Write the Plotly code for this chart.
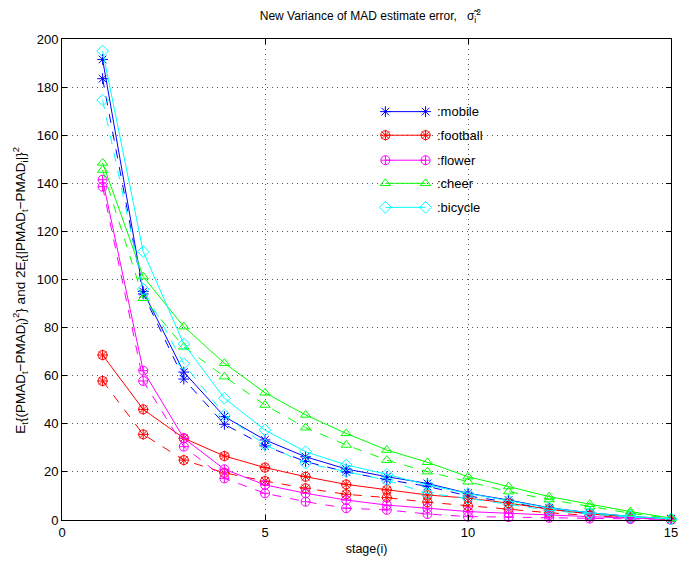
import plotly.graph_objects as go

stages = list(range(1, 16))

# E_t{(PMAD_t - PMAD_i)^2}  (solid)  and  2E_t{|PMAD_t - PMAD_i|}^2  (dashed)
mobile_sq = [191.5, 95.0, 61.5, 43.0, 33.3, 26.3, 21.2, 18.0, 15.2, 11.1, 8.3, 5.1, 3.0, 1.5, 0.5]
mobile_abs = [183.5, 94.0, 58.6, 39.8, 30.8, 24.3, 20.0, 16.8, 14.0, 10.0, 7.4, 4.5, 2.6, 1.3, 0.4]
football_sq = [68.6, 46.0, 34.0, 26.6, 21.8, 18.0, 14.8, 12.5, 10.4, 9.1, 7.0, 4.5, 2.5, 1.2, 0.3]
football_abs = [57.8, 35.6, 24.9, 19.6, 16.2, 13.2, 10.7, 9.3, 7.4, 5.8, 4.5, 3.0, 1.8, 0.8, 0.2]
flower_sq = [141.5, 62.1, 34.0, 21.1, 14.6, 11.1, 8.3, 6.2, 4.9, 3.5, 2.8, 2.0, 1.4, 0.8, 0.3]
flower_abs = [138.6, 57.8, 30.5, 17.3, 11.1, 7.6, 4.9, 4.2, 2.5, 1.4, 1.2, 0.9, 0.6, 0.4, 0.2]
cheer_sq = [148.5, 101.2, 80.4, 65.2, 52.9, 43.7, 36.0, 29.1, 24.0, 18.0, 13.9, 9.7, 6.6, 3.5, 0.8]
cheer_abs = [145.5, 92.2, 72.0, 59.6, 47.8, 38.4, 31.2, 24.9, 20.1, 15.9, 11.8, 8.5, 5.5, 2.8, 0.6]
bicycle_sq = [195.0, 111.6, 73.2, 50.6, 37.4, 28.4, 22.9, 19.0, 14.6, 11.0, 8.0, 5.0, 3.0, 1.5, 0.5]
bicycle_abs = [174.6, 96.0, 65.0, 43.7, 31.2, 23.6, 20.1, 16.5, 11.1, 9.0, 6.5, 4.0, 2.5, 1.2, 0.4]

names = ["mobile", "football", "flower", "cheer", "bicycle"]
colors = ["#0000FF", "#FF0000", "#FF00FF", "#00FF00", "#00FFFF"]
symbols = [["asterisk-open"], ["circle-open", "asterisk-open"], ["circle-cross-open"],
           ["triangle-up-open"], ["diamond-open"]]
solid = [mobile_sq, football_sq, flower_sq, cheer_sq, bicycle_sq]
dashed = [mobile_abs, football_abs, flower_abs, cheer_abs, bicycle_abs]

# legend sample placement, in plot-area fractions
legend_x = [0.531, 0.597]
legend_text_x = 0.612
legend_y = [0.849, 0.800, 0.748, 0.700, 0.650]

FONT = "Liberation Sans, Arial, Helvetica, sans-serif"

fig = go.Figure()

for name, col, syms, ys, yd in zip(names, colors, symbols, solid, dashed):
    for vals, dash in ((ys, "solid"), (yd, "dash")):
        for k, sym in enumerate(syms):
            fig.add_trace(go.Scatter(
                x=stages, y=vals, mode="lines+markers" if k == 0 else "markers",
                line=dict(color=col, width=1, dash=dash),
                marker=dict(symbol=sym, size=9, color=col, line=dict(color=col, width=1)),
                showlegend=False, hoverinfo="skip", cliponaxis=False))

# hand-drawn legend on an overlay axis
for name, col, syms, ly in zip(names, colors, symbols, legend_y):
    for k, sym in enumerate(syms):
        fig.add_trace(go.Scatter(
            x=legend_x, y=[ly, ly], xaxis="x2", yaxis="y2",
            mode="lines+markers" if k == 0 else "markers",
            line=dict(color=col, width=1),
            marker=dict(symbol=sym, size=9, color=col, line=dict(color=col, width=1)),
            showlegend=False, hoverinfo="skip"))
    fig.add_annotation(x=legend_text_x, y=ly, xref="x2", yref="y2", text=":" + name,
                       showarrow=False, xanchor="left", yanchor="middle",
                       font=dict(family=FONT, size=13, color="black"))

axis_common = dict(
    showline=True, linecolor="black", linewidth=1, mirror="ticks",
    ticks="inside", ticklen=5, tickcolor="black", tickwidth=1,
    showgrid=True, gridcolor="#555555", gridwidth=1, griddash="1px,4px",
    zeroline=False, tickfont=dict(family=FONT, size=13, color="black"),
    ticklabeloverflow="allow",
)

fig.update_layout(
    width=682, height=564,
    margin=dict(l=62, r=4, t=39, b=44),
    plot_bgcolor="white", paper_bgcolor="white",
    showlegend=False,
    title=dict(text="New Variance of MAD estimate error,   σ̃<sub>i</sub><sup>2</sup>",
               x=0.543, xanchor="center", y=0.972, yanchor="middle",
               font=dict(family=FONT, size=12, color="black")),
    xaxis=dict(range=[0, 15], tickvals=[0, 5, 10, 15],
               title=dict(text="stage(i)", standoff=5,
                          font=dict(family=FONT, size=12.5, color="black")),
               **axis_common),
    yaxis=dict(range=[0, 200], tickvals=list(range(0, 201, 20)), **axis_common),
    xaxis2=dict(range=[0, 1], overlaying="x", visible=False, fixedrange=True),
    yaxis2=dict(range=[0, 1], overlaying="y", visible=False, fixedrange=True),
)

fig.add_annotation(
    text="E<sub>t</sub>{(PMAD<sub>t</sub>−PMAD<sub>i</sub>)<sup>2</sup>} and "
         "2E<sub>t</sub>{|PMAD<sub>t</sub>−PMAD<sub>i</sub>|}<sup>2</sup>",
    xref="paper", yref="paper", x=-0.068, y=0.478, textangle=-90,
    showarrow=False, xanchor="center", yanchor="middle",
    font=dict(family=FONT, size=13.5, color="black"))

fig.write_html("out.html")
